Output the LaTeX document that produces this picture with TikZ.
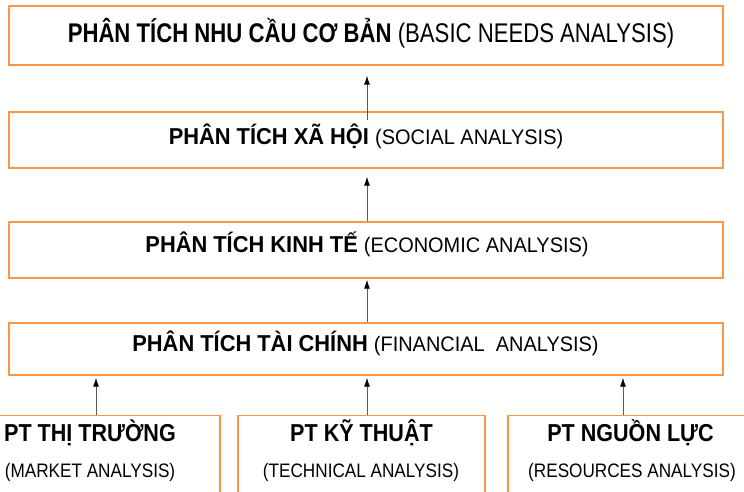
\documentclass[tikz,border=0pt]{standalone}
\usepackage{fontspec}
\setmainfont{Liberation Sans}
\newfontfamily\topfont{Liberation Sans}[FakeStretch=0.82]
\newfontfamily\midfont{Liberation Sans}[FakeStretch=0.95]
\newfontfamily\lowfont{Liberation Sans}[FakeStretch=0.88]
\usetikzlibrary{arrows.meta}
\definecolor{boxorange}{RGB}{250,150,72}
\definecolor{shaft}{RGB}{90,90,90}
\begin{document}
\begin{tikzpicture}[x=1pt,y=-1pt,
  stage/.style={draw=boxorange,line width=1.3pt,fill=white,inner sep=0pt,
    minimum width=714pt},
  source/.style={draw=boxorange,line width=1.3pt,fill=white,inner sep=0pt,
    minimum height=90pt},
  lbl/.style={inner sep=0pt,anchor=base,text=black},
  flow/.style={draw=shaft,line width=0.9pt,
    -{Latex[length=9pt,width=6pt,black]}}]
\useasboundingbox (0,0) rectangle (744,492);
\clip (0,0) rectangle (744,492);

% four stacked analysis levels
\node[stage,minimum height=59pt] (basic)     at (366,35.5) {};
\node[stage,minimum height=56pt] (social)    at (366,140)  {};
\node[stage,minimum height=56pt] (economic)  at (366,250)  {};
\node[stage,minimum height=52pt] (financial) at (366,349)  {};

\node[lbl] (basictxt) at (371,43)
  {\topfont\fontsize{27}{32}\selectfont\textbf{PHÂN TÍCH NHU CẦU CƠ BẢN} (BASIC NEEDS ANALYSIS)};
\node[lbl] (socialtxt) at (366,145)
  {\midfont\fontsize{23}{28}\selectfont\textbf{PHÂN TÍCH XÃ HỘI} \fontsize{21}{26}\selectfont(SOCIAL ANALYSIS)};
\node[lbl] (economictxt) at (367,252)
  {\midfont\fontsize{23}{28}\selectfont\textbf{PHÂN TÍCH KINH TẾ} \fontsize{21}{26}\selectfont(ECONOMIC ANALYSIS)};
\node[lbl] (financialtxt) at (365.5,351)
  {\midfont\fontsize{23}{28}\selectfont\textbf{PHÂN TÍCH TÀI CHÍNH} \fontsize{21}{26}\selectfont(FINANCIAL\ \ ANALYSIS)};

% three feasibility studies feeding the financial analysis
\node[source,minimum width=260pt] (market)    at (90,460.5)    {};
\node[source,minimum width=247pt] (technical) at (361.5,460.5) {};
\node[source,minimum width=247pt] (resources) at (631.5,460.5) {};

\node[lbl] (markettxt) at (90,441)
  {\lowfont\fontsize{24.5}{29}\selectfont\textbf{PT THỊ TRƯỜNG}};
\node[lbl] (marketsub) at (90,477)
  {\lowfont\fontsize{19.5}{24}\selectfont(MARKET ANALYSIS)};
\node[lbl] (technicaltxt) at (361.5,441)
  {\lowfont\fontsize{24.5}{29}\selectfont\textbf{PT KỸ THUẬT}};
\node[lbl] (technicalsub) at (361,477)
  {\lowfont\fontsize{19.5}{24}\selectfont(TECHNICAL ANALYSIS)};
\node[lbl] (resourcestxt) at (630.5,441)
  {\lowfont\fontsize{24.5}{29}\selectfont\textbf{PT NGUỒN LỰC}};
\node[lbl] (resourcessub) at (632,477)
  {\lowfont\fontsize{19.5}{24}\selectfont(RESOURCES ANALYSIS)};

% upward flow between levels
\draw[flow] ([xshift=1pt,yshift=-9pt]social.north) -- ([xshift=1pt,yshift=-10pt]basic.south);
\draw[flow] ([xshift=1pt]economic.north) -- ([xshift=1pt,yshift=-8pt]social.south);
\draw[flow] ([xshift=1pt]financial.north) -- ([xshift=1pt,yshift=-1pt]economic.south);

\coordinate (mktfoot) at (96,0);
\draw[flow] (market.north -| mktfoot) -- ([yshift=-2pt]financial.south -| mktfoot);
\draw[flow] ([xshift=5.5pt]technical.north) -- ([xshift=1pt,yshift=-2pt]financial.south);
\coordinate (resfoot) at (623,0);
\draw[flow] (resources.north -| resfoot) -- ([yshift=-2pt]financial.south -| resfoot);
\end{tikzpicture}
\end{document}
